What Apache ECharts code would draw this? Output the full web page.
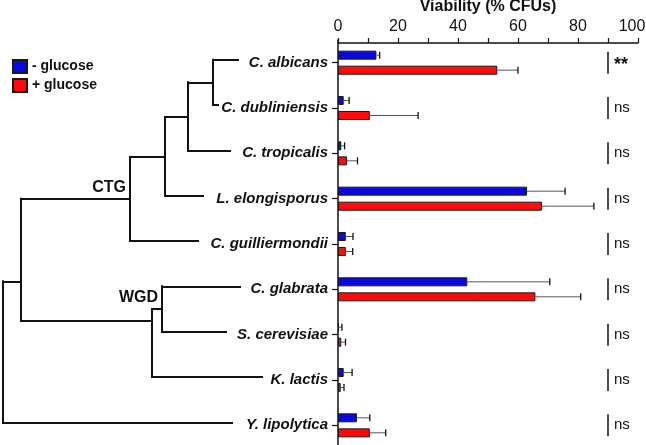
<!DOCTYPE html>
<html>
<head>
<meta charset="utf-8">
<script src="https://cdn.jsdelivr.net/npm/echarts@6/dist/echarts.min.js"></script>
<style>
  html, body { margin: 0; padding: 0; background: #fff; }
  #chart { width: 646px; height: 445px; }
</style>
</head>
<body>
<div id="chart"></div>
<script>
var FONT = '"Liberation Sans", Arial, sans-serif';

var species = ['C. albicans', 'C. dubliniensis', 'C. tropicalis', 'L. elongisporus', 'C. guilliermondii',
  'C. glabrata', 'S. cerevisiae', 'K. lactis', 'Y. lipolytica'];
var minusGlucose = [12.8, 1.9, 1.1, 63.0, 2.6, 43.1, 0.3, 1.9, 6.3];
var minusErr = [1.1, 1.8, 1.1, 12.7, 2.4, 27.5, 1.0, 2.8, 4.3];
var plusGlucose = [53.1, 10.6, 3.0, 68.0, 2.6, 65.8, 1.1, 0.9, 10.6];
var plusErr = [6.9, 16.1, 3.5, 17.3, 2.3, 15.1, 1.4, 1.1, 5.3];
var significance = ['**', 'ns', 'ns', 'ns', 'ns', 'ns', 'ns', 'ns', 'ns'];
var xTicks = [0, 20, 40, 60, 80, 100];

// tree: leaf tips (branch end, tree units), internal nodes
var leafTip = [238, 218, 230, 203, 198, 240, 226, 262, 232];
var nodeNames = ['n1', 'n2', 'n3', 'CTG', 'WGD', 'n5', 'n6', 'root'];
var nodeDepth = [213, 188, 165, 130, 162, 152, 21, 3];
var nodeY = [0.5, 1.27, 2.15, 3.07, 5.5, 5.76, 4.89, null];
var nodeChildren = [['L0', 'L1'], ['n1', 'L2'], ['n2', 'L3'], ['n3', 'L4'], ['L5', 'L6'],
  ['WGD', 'L7'], ['CTG', 'n5'], ['n6', 'L8']];
var nodeLabels = ['CTG', 'WGD'];

function pos(key) {
  if (key.charAt(0) === 'L') {
    var i = +key.slice(1);
    return [leafTip[i], i];
  }
  var k = nodeNames.indexOf(key);
  return [nodeDepth[k], nodeY[k]];
}

var segs = [];
nodeNames.forEach(function (n, k) {
  var x = nodeDepth[k];
  var ys = [];
  nodeChildren[k].forEach(function (c) {
    var p = pos(c);
    ys.push(p[1]);
    segs.push({ coords: [[x, p[1]], [p[0], p[1]]] });
  });
  segs.push({ coords: [[x, Math.min.apply(null, ys)], [x, Math.max.apply(null, ys)]] });
});
var labelPts = nodeLabels.map(function (n) {
  var k = nodeNames.indexOf(n);
  return { name: n, value: [nodeDepth[k], nodeY[k]] };
});

var BAR_W = 9, BAR_OFF = 7.5;

function errItem(sign) {
  return function (params, api) {
    var i = api.value(0);
    var v = api.value(1);
    var e = api.value(2);
    var p0 = api.coord([v, i]);
    var p1 = api.coord([v + e, i]);
    var y = p0[1] + sign * BAR_OFF;
    return {
      type: 'group',
      children: [
        { type: 'line', shape: { x1: p0[0], y1: y, x2: p1[0], y2: y }, style: { stroke: '#555', lineWidth: 1 } },
        { type: 'line', shape: { x1: p1[0], y1: y - 3.5, x2: p1[0], y2: y + 3.5 }, style: { stroke: '#111', lineWidth: 1.3 } }
      ]
    };
  };
}

var chart = echarts.init(document.getElementById('chart'));
chart.setOption({
  animation: false,
  textStyle: { fontFamily: FONT },
  legend: {
    orient: 'vertical',
    left: 7, top: 54, icon: 'rect',
    itemWidth: 14, itemHeight: 13, itemGap: 4,
    textStyle: { fontSize: 14, fontWeight: 'bold', color: '#111', fontFamily: FONT },
    data: ['- glucose', '+ glucose']
  },
  grid: [
    { left: 338, top: 40, width: 300, height: 408, outerBoundsMode: 'none' },
    { left: 0, top: 37, width: 338, height: 408, outerBoundsMode: 'none' }
  ],
  xAxis: [{
    type: 'value', position: 'top', min: 0, max: 100, interval: 20, offset: -3,
    name: 'Viability (% CFUs)', nameLocation: 'middle', nameGap: 25,
    nameTextStyle: { fontSize: 16, fontWeight: 'bold', color: '#111', fontFamily: FONT },
    axisLine: { show: true, lineStyle: { color: '#111', width: 1.5 } },
    axisTick: { show: true, length: 5, lineStyle: { color: '#111', width: 1.2 } },
    minorTick: { show: true, splitNumber: 2, length: 5, lineStyle: { color: '#111', width: 1.2 } },
    axisLabel: { fontSize: 16, color: '#111', margin: 8, fontFamily: FONT,
      formatter: function (v) {
        if (xTicks.indexOf(v) < 0) return '';
        return v === 100 ? '{last|100}' : String(v);
      },
      rich: { last: { fontSize: 16, color: '#111', fontFamily: FONT, padding: [0, 12, 0, 0] } } },
    splitLine: { show: false }
  }, {
    type: 'value', gridIndex: 1, min: 0, max: 338, show: false
  }],
  yAxis: [{
    type: 'category', data: species, inverse: true,
    axisLine: { show: true, lineStyle: { color: '#111', width: 1.5 } },
    axisTick: { show: true, alignWithLabel: true, length: 6, lineStyle: { color: '#111', width: 1.2 } },
    axisLabel: { fontSize: 15, fontWeight: 'bold', fontStyle: 'italic', color: '#111', margin: 10,
      fontFamily: FONT, padding: [0, 0, 5, 0] }
  }, {
    type: 'value', gridIndex: 1, min: -0.5, max: 8.5, inverse: true, show: false
  }],
  series: [
    {
      name: '- glucose', type: 'bar', data: minusGlucose, barWidth: BAR_W, barGap: '67%',
      itemStyle: { color: '#0a0ae0', borderColor: '#1a1a1a', borderWidth: 1 }
    },
    {
      name: '+ glucose', type: 'bar', data: plusGlucose, barWidth: BAR_W,
      itemStyle: { color: '#ff0a0a', borderColor: '#1a1a1a', borderWidth: 1 }
    },
    {
      type: 'custom', z: 5, silent: true,
      data: minusGlucose.map(function (v, i) { return [i, v, minusErr[i]]; }),
      encode: { x: 1, y: 0 },
      renderItem: errItem(-1)
    },
    {
      type: 'custom', z: 5, silent: true,
      data: plusGlucose.map(function (v, i) { return [i, v, plusErr[i]]; }),
      encode: { x: 1, y: 0 },
      renderItem: errItem(1)
    },
    {
      type: 'custom', z: 5, silent: true,
      data: significance.map(function (s, i) { return [i, 90, s]; }),
      encode: { x: 1, y: 0 },
      renderItem: function (params, api) {
        var p = api.coord([api.value(1), api.value(0)]);
        var s = significance[params.dataIndex];
        return {
          type: 'group',
          children: [
            { type: 'line', shape: { x1: p[0], y1: p[1] - 11, x2: p[0], y2: p[1] + 11 }, style: { stroke: '#111', lineWidth: 1.5 } },
            { type: 'text', x: p[0] + 6, y: p[1] + (s === '**' ? 2 : 0),
              style: { text: s, fill: '#111', fontSize: s === '**' ? 18 : 15, fontWeight: s === '**' ? 'bold' : 'normal',
                fontFamily: FONT, verticalAlign: 'middle', align: 'left' } }
          ]
        };
      }
    },
    {
      type: 'lines', coordinateSystem: 'cartesian2d', xAxisIndex: 1, yAxisIndex: 1,
      data: segs, silent: true,
      lineStyle: { color: '#111', width: 2, opacity: 1, cap: 'square' }
    },
    {
      type: 'scatter', xAxisIndex: 1, yAxisIndex: 1, symbolSize: 0, silent: true,
      data: labelPts,
      itemStyle: { opacity: 1 },
      label: {
        show: true, position: 'left', distance: 4, offset: [0, -11],
        formatter: '{b}', fontSize: 16, fontWeight: 'bold', color: '#111', opacity: 1, fontFamily: FONT
      }
    }
  ]
});
</script>
</body>
</html>
